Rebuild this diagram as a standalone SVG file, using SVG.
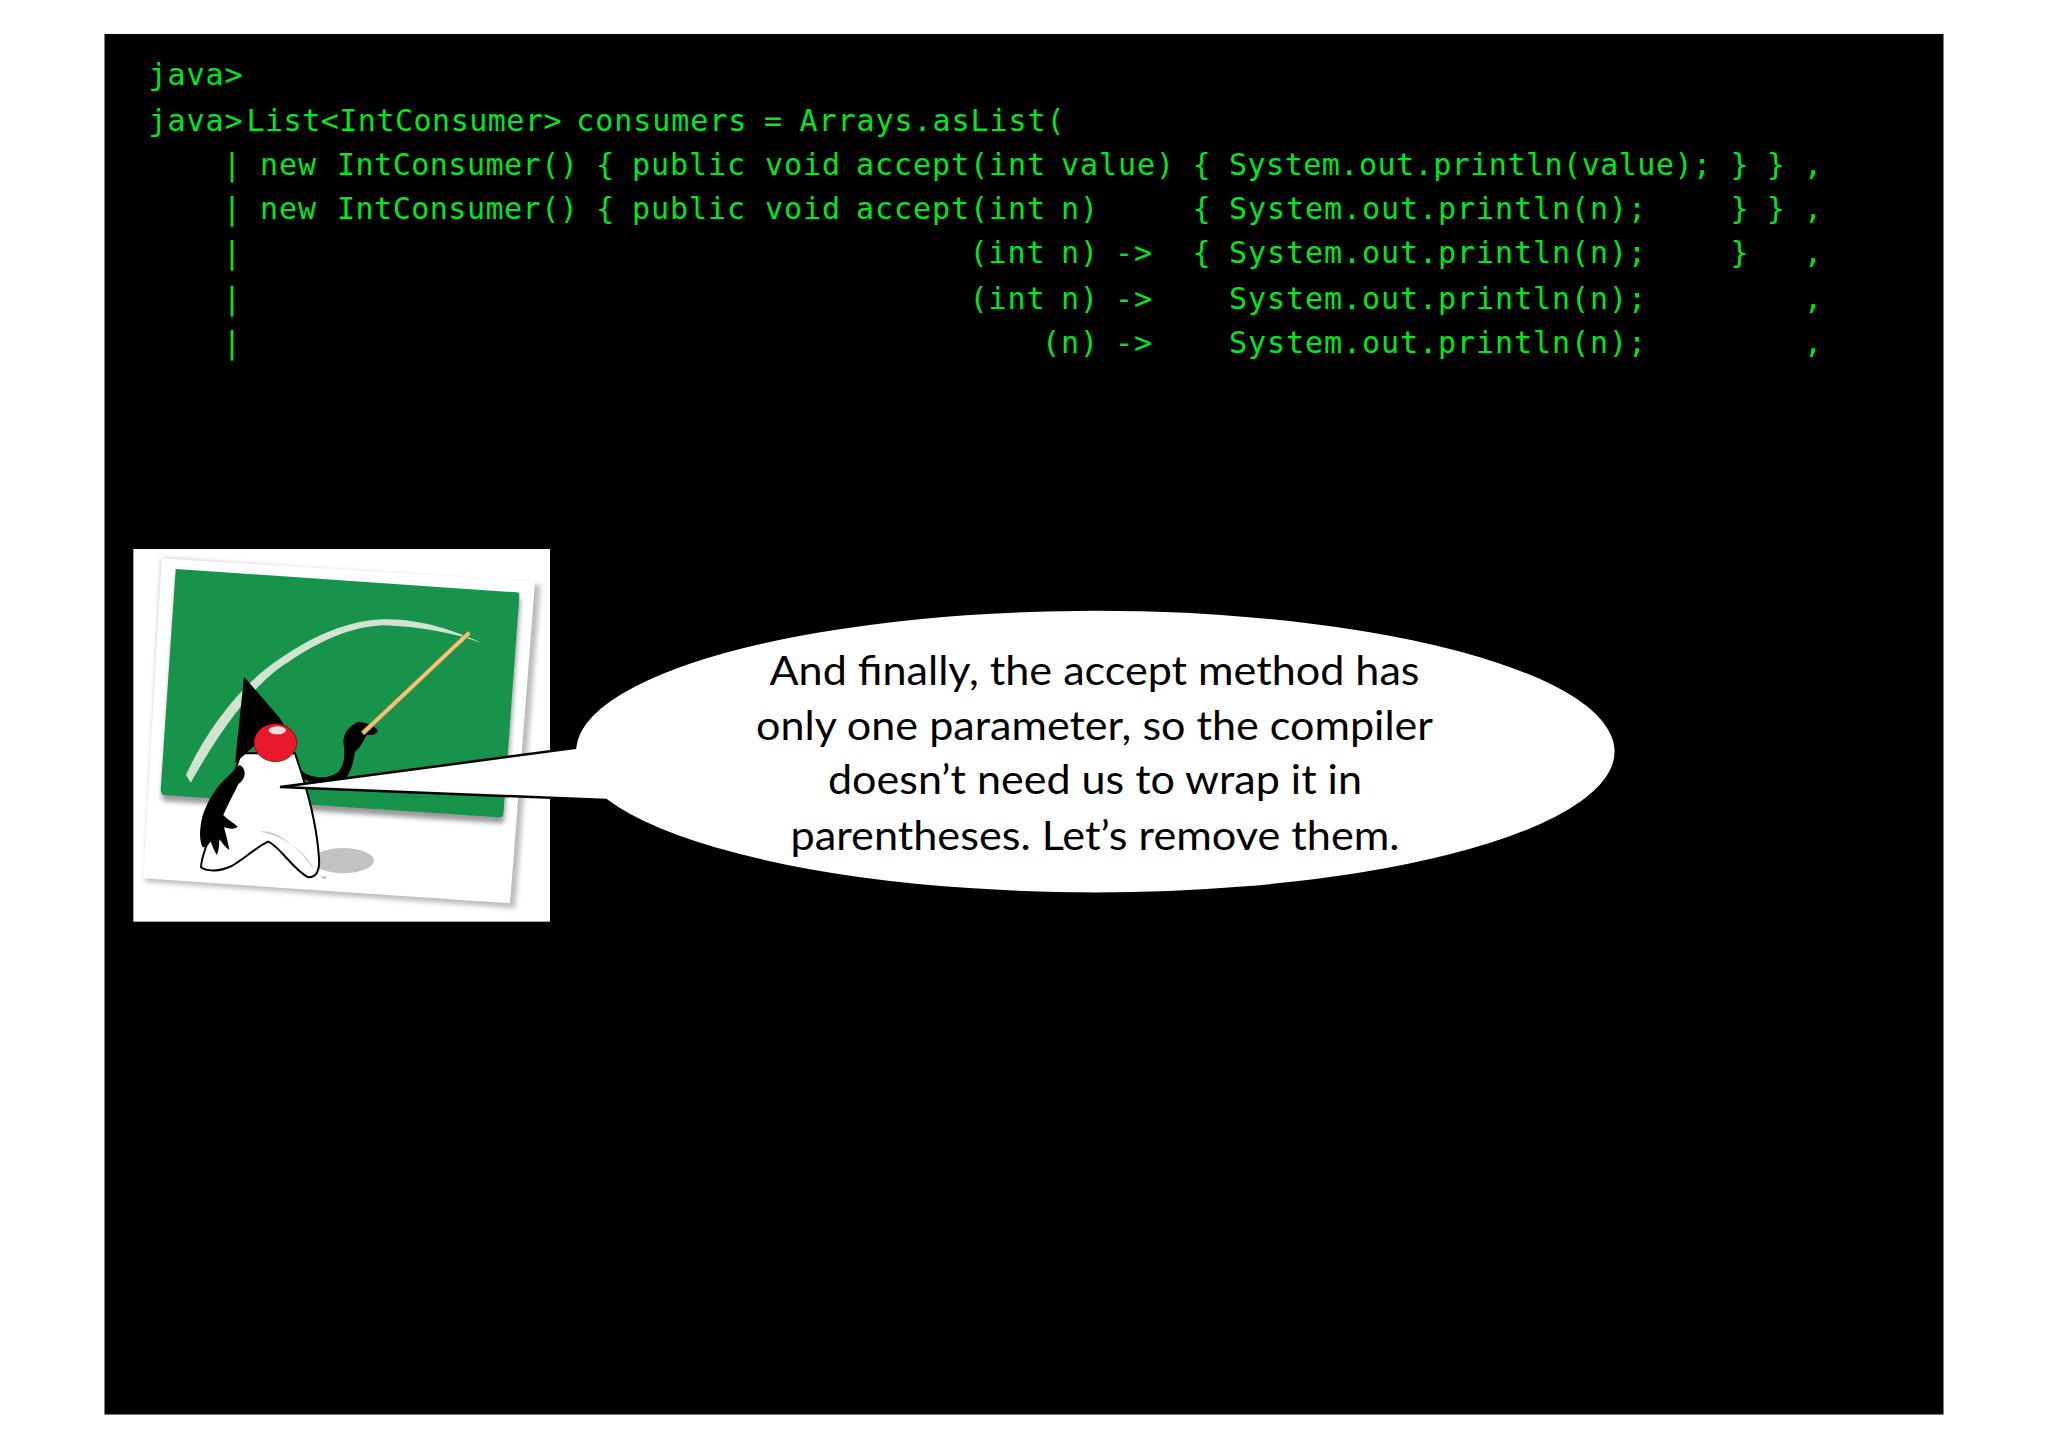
<svg xmlns="http://www.w3.org/2000/svg" width="2048" height="1447" viewBox="0 0 2048 1447">
<style>
.code{font-family:"DejaVu Sans Mono","Liberation Mono",monospace;font-size:30px;letter-spacing:.94px;word-spacing:-9px;fill:#00e620}
.tight{letter-spacing:.5px}
.say{font-family:Lato,"Open Sans",sans-serif;font-size:41px;fill:#000;text-anchor:middle}
</style>
<defs>
<filter id="b1" x="-10%" y="-10%" width="120%" height="120%"><feGaussianBlur stdDeviation="8"/></filter>
<filter id="b2" x="-10%" y="-10%" width="120%" height="120%"><feGaussianBlur stdDeviation="1.5"/></filter>
</defs>
<rect width="2048" height="1447" fill="#fff"/>
<rect x="104.5" y="34" width="1839" height="1380.5" fill="#000"/>
<g id="terminal">
<text class="code" x="148.5" y="85">java&gt;</text>
<text class="code" y="130.5"><tspan x="148.5">java&gt;</tspan><tspan x="246.5" class="tight">List&lt;IntConsumer&gt; </tspan><tspan x="576.3">consumers </tspan><tspan x="764">= </tspan><tspan x="799.5">Arrays.asList(</tspan></text>
<text class="code" y="175"><tspan x="222.9">| </tspan><tspan x="260.1">new </tspan><tspan x="337" class="tight">IntConsumer() </tspan><tspan x="596">{ </tspan><tspan x="632.1">public </tspan><tspan x="765">void </tspan><tspan x="856">accept(int </tspan><tspan x="1061">value) </tspan><tspan x="1192.5">{ </tspan><tspan x="1229" class="tight">System.out.println(value); </tspan><tspan x="1730.5">} </tspan><tspan x="1766.7">} </tspan><tspan x="1803.9">,</tspan></text>
<text class="code" y="219"><tspan x="222.9">| </tspan><tspan x="260.1">new </tspan><tspan x="337" class="tight">IntConsumer() </tspan><tspan x="596">{ </tspan><tspan x="632.1">public </tspan><tspan x="765">void </tspan><tspan x="856">accept(int </tspan><tspan x="1061">n) </tspan><tspan x="1192.5">{ </tspan><tspan x="1229">System.out.println(n); </tspan><tspan x="1730.5">} </tspan><tspan x="1766.7">} </tspan><tspan x="1803.9">,</tspan></text>
<text class="code" y="263"><tspan x="222.9">| </tspan><tspan x="969.5">(int </tspan><tspan x="1061">n) </tspan><tspan x="1115">-&gt; </tspan><tspan x="1192.5">{ </tspan><tspan x="1229">System.out.println(n); </tspan><tspan x="1730.5">} </tspan><tspan x="1803.9">,</tspan></text>
<text class="code" y="309"><tspan x="222.9">| </tspan><tspan x="969.5">(int </tspan><tspan x="1061">n) </tspan><tspan x="1115">-&gt; </tspan><tspan x="1229">System.out.println(n); </tspan><tspan x="1803.9">,</tspan></text>
<text class="code" y="353"><tspan x="222.9">| </tspan><tspan x="1042">(n) </tspan><tspan x="1115">-&gt; </tspan><tspan x="1229">System.out.println(n); </tspan><tspan x="1803.9">,</tspan></text>
</g>
<g id="duke-picture" transform="translate(120 530) scale(.33333)">
<rect x="40" y="57" width="1250" height="1118" fill="#fff"/>
<polygon points="125,85 1262,165 1186,1135 75,1055" fill="#bbb" filter="url(#b1)"/>
<polygon points="125,85 1245,155 1170,1120 70,1045" fill="#fff"/>
<path d="M167,117 L1190,187 Q1199,188 1198,197 L1150,852 Q1148,862 1138,862 L130,795 Q122,790 122,780 Z" fill="#999" transform="translate(3 18)" filter="url(#b1)"/>
<path d="M167,117 L1190,187 Q1199,188 1198,197 L1150,852 Q1148,862 1138,862 L130,795 Q122,790 122,780 Z" fill="#17934b"/>
<path d="M198,735 C240,640 330,500 440,415 C540,340 660,272 790,268 C900,266 1000,300 1087,340 C1000,308 900,290 790,286 C670,292 570,350 470,420 C370,500 285,630 212,758 Z" fill="#cfe3cf" filter="url(#b2)"/>
<ellipse cx="670" cy="992" rx="92" ry="38" fill="#c2c2c4" filter="url(#b2)"/>
<path d="M362,670 C345,730 320,790 300,850 C275,910 245,970 243,1012 C260,1025 300,1025 335,1008 C375,985 410,950 445,935 C480,950 520,1020 565,1042 C590,1042 600,1020 597,985 C592,900 570,810 545,730 L525,670 Z" fill="#fff" stroke="#000" stroke-width="6"/>
<path d="M420,905 C470,895 530,950 585,1020 C560,970 500,920 420,905 Z" fill="#ccc" filter="url(#b2)"/>
<polygon points="372,440 480,565 500,600 400,650 345,700" fill="#000"/>
<path d="M545,722 C570,745 625,750 655,725 C672,705 675,680 672,650 C665,620 680,590 715,575 C745,578 765,590 773,600 C772,615 755,615 740,615 C730,630 725,650 705,665 C700,700 690,735 670,752 C630,770 575,765 548,745 Z" fill="#000"/>
<line x1="728" y1="610" x2="1048" y2="308" stroke="#8f7a3a" stroke-width="15"/>
<line x1="728" y1="610" x2="1048" y2="308" stroke="#eec678" stroke-width="11"/>
<path d="M358,705 C378,712 382,745 355,762 C345,785 325,820 310,855 C325,872 345,880 353,890 C340,900 322,895 312,892 C318,915 325,940 328,960 C315,952 305,935 298,928 C298,945 296,965 290,975 C282,960 276,945 272,935 C262,948 255,955 247,950 C236,925 240,890 247,860 C262,815 285,775 318,745 C335,730 345,715 358,705 Z" fill="#000"/>
<ellipse cx="466" cy="638" rx="64" ry="57" fill="#e8192c" stroke="#600" stroke-width="2"/>
<ellipse cx="472" cy="601" rx="26" ry="12" fill="#f8dcdc"/>
<text x="602" y="1048" font-family="Liberation Sans,sans-serif" font-size="11" fill="#777">TM</text>
</g>
<g id="callout">
<path d="M280,787 L575,748 A520.5,142 0 1 1 606,800 Z" fill="#fff" stroke="#000" stroke-width="2.5" stroke-linejoin="miter"/>
<text class="say" x="1094.5" y="684.5" textLength="650" lengthAdjust="spacingAndGlyphs">And finally, the accept method has</text>
<text class="say" x="1094.5" y="739.5" textLength="677" lengthAdjust="spacingAndGlyphs">only one parameter, so the compiler</text>
<text class="say" x="1095" y="793.5" textLength="534" lengthAdjust="spacingAndGlyphs">doesn’t need us to wrap it in</text>
<text class="say" x="1095" y="849.5" textLength="609" lengthAdjust="spacingAndGlyphs">parentheses. Let’s remove them.</text>
</g>
</svg>
